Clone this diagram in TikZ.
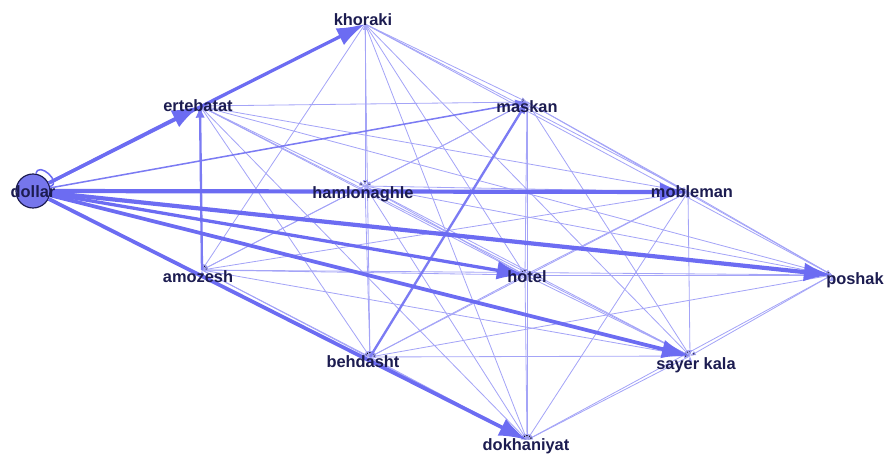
\documentclass[tikz,border=0pt]{standalone}
\usepackage{fontspec}
\setmainfont{Liberation Sans}
\usetikzlibrary{arrows.meta}

\definecolor{linkblue}{RGB}{108,108,242}
\definecolor{lbltext}{RGB}{28,28,80}
\definecolor{dollarfill}{RGB}{118,118,236}

\begin{document}
\begin{tikzpicture}[
    x=0.03cm, y=-0.03cm,
    every node/.style={
        font=\fontsize{14}{16}\selectfont\bfseries,
        text=lbltext
    },
    sector/.style={
        text height=10pt, text depth=0pt,
        inner sep=0pt
    },
    hub/.style={
        circle, minimum size=1.02cm, inner sep=0pt,
        fill=dollarfill, draw=lbltext, line width=1pt
    },
    thinlink/.style={
        draw=linkblue!62, line width=0.7pt,
        -{Latex[length=5pt,width=4pt]}
    },
    midlink/.style={
        draw=linkblue!90, line width=2pt,
        -{Latex[length=10pt,width=8pt]}
    },
    biglink/.style={
        draw=linkblue, line width=3.6pt,
        -{Latex[length=24pt,width=16pt]}
    },
    selfloop/.style={
        draw=linkblue, line width=1.3pt,
        out=80, in=15, distance=0.4cm
    }
]
\useasboundingbox (0,0) rectangle (887,454);

% sector points
\node (dol) [hub] at (33,191) {};
\coordinate (kho) at (365,24);
\coordinate (ert) at (200,106);
\coordinate (mas) at (527,102);
\coordinate (ham) at (365,186);
\coordinate (mob) at (688,192);
\coordinate (amo) at (202,270);
\coordinate (hot) at (525,275);
\coordinate (pos) at (832,275);
\coordinate (beh) at (370,357);
\coordinate (say) at (690,356);
\coordinate (dok) at (527,440);

% weak links
\draw[thinlink] (kho) edge (mas) edge (ham) edge (mob) edge (amo) edge (hot)
    edge (pos) edge (beh) edge (say) edge (dok);
\draw[thinlink] (ert) edge (mas) edge (ham) edge (mob) edge (hot)
    edge (pos) edge (beh) edge (say) edge (dok);
\draw[thinlink] (mas) edge (ham) edge (mob) edge (amo) edge (hot)
    edge (pos) edge (say) edge (dok);
\draw[thinlink] (ham) edge (mob) edge (amo) edge (hot) edge (pos)
    edge (beh) edge (say) edge (dok);
\draw[thinlink] (mob) edge (amo) edge (hot) edge (pos) edge (beh)
    edge (say) edge (dok);
\draw[thinlink] (amo) edge (hot) edge (pos) edge (beh) edge (say) edge (dok);
\draw[thinlink] (hot) edge (pos) edge (beh) edge (say) edge (dok);
\draw[thinlink] (pos) edge (beh) edge (say) edge (dok);
\draw[thinlink] (beh) edge (say) edge (dok);
\draw[thinlink] (say) edge (dok);

% medium links
\draw[midlink] (amo) -- (ert);
\draw[midlink] (beh) -- (mas);
\draw[midlink, line width=1.3pt] (dol) -- (mas);

% strong links from dollar
\draw[biglink, line width=2.8pt] (dol) -- (ert);
\draw[biglink, line width=2.8pt] (dol) -- (kho);
\draw[biglink] (dol) -- (mob);
\draw[biglink] (dol) -- (pos);
\draw[biglink, line width=3.2pt] (dol) -- (say);
\draw[biglink, line width=3.2pt] (dol) -- (dok);
\draw[biglink, line width=2.8pt] (dol) -- (hot);
\path (dol) edge[selfloop] (dol);

% labels
\node (dolL) [sector] at (33,192)  {dollar};
\node (khoL) [sector] at (363,20)  {khoraki};
\node (ertL) [sector] at (198,106) {ertebatat};
\node (masL) [sector] at (527,107) {maskan};
\node (hamL) [sector] at (363,193) {hamlonaghle};
\node (mobL) [sector] at (692,192) {mobleman};
\node (amoL) [sector] at (198,277) {amozesh};
\node (hotL) [sector] at (527,277) {hotel};
\node (posL) [sector] at (855,279) {poshak};
\node (behL) [sector] at (363,362) {behdasht};
\node (sayL) [sector] at (696,364) {sayer kala};
\node (dokL) [sector] at (526,445) {dokhaniyat};
\end{tikzpicture}
\end{document}
